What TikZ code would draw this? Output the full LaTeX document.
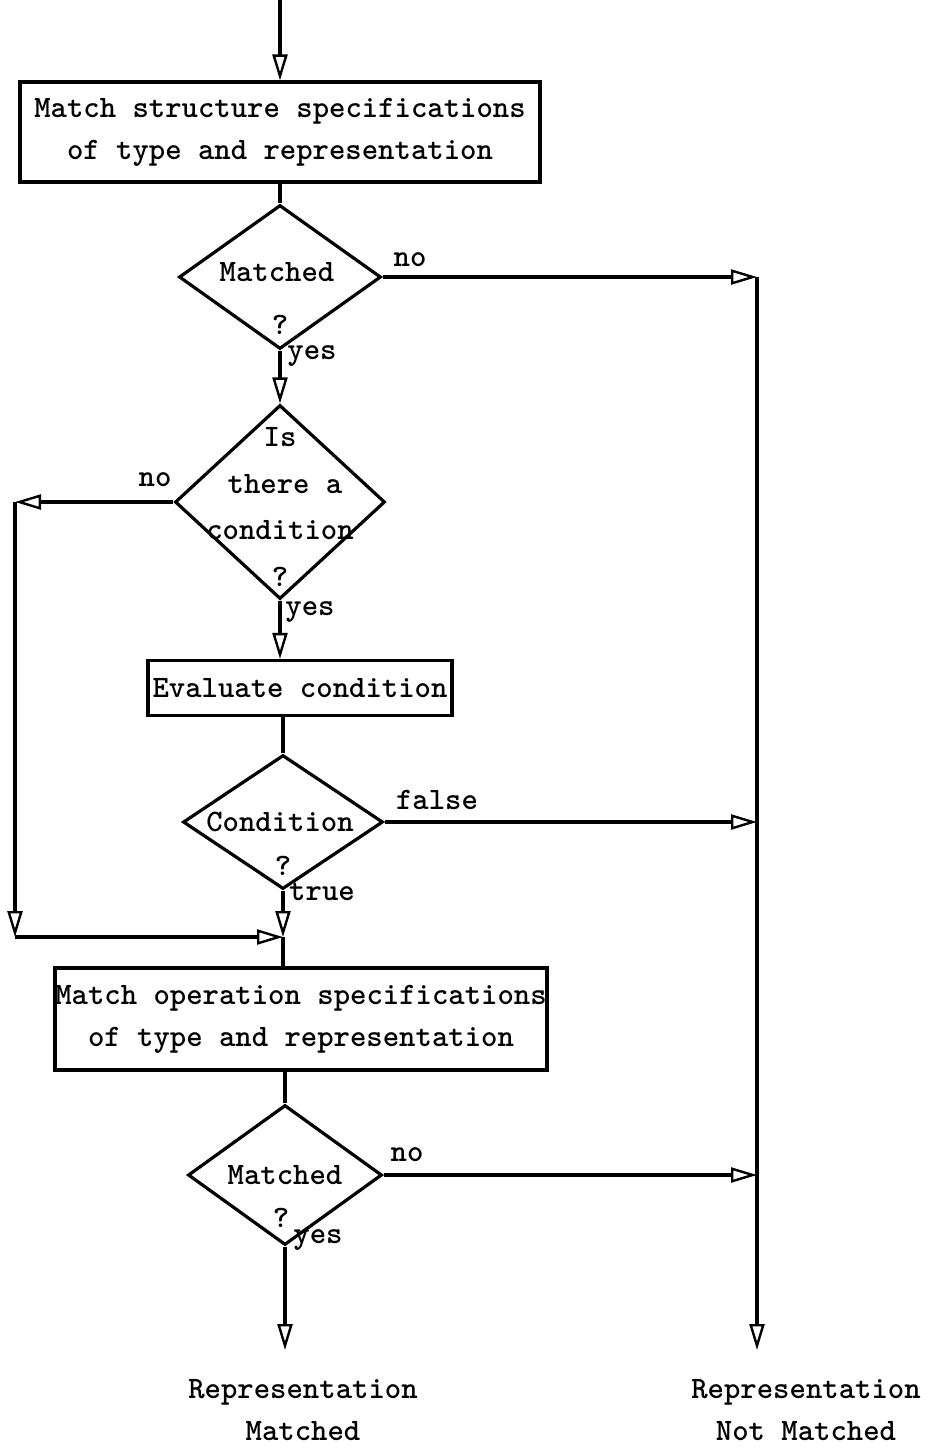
\documentclass[tikz,border=0pt]{standalone}
\usetikzlibrary{shapes.geometric,arrows.meta}

\tikzset{
  flow/.style={line width=1.6pt,-{Triangle[open,length=13pt,width=7.5pt,line width=1.2pt]}},
  link/.style={line width=1.6pt},
  procbox/.style={draw,line width=1.6pt,inner sep=0pt,align=center},
  decision/.style={draw,diamond,line width=1.6pt,inner sep=0pt},
  txt/.style={inner sep=0pt,align=center}
}

\begin{document}
\begin{tikzpicture}[x=0.5pt,y=-0.5pt,font=\ttfamily\bfseries\fontsize{15.6}{21}\selectfont]
        \useasboundingbox (0,0) rectangle (929,1448);

        % Boxes
        \node[procbox,minimum width=260pt,minimum height=50pt] (b1) at (280,132)
          {Match structure specifications\\of type and representation};
        \node[procbox,minimum width=152pt,minimum height=27.5pt] (b2) at (300,688)
          {Evaluate condition};
        \node[procbox,minimum width=246pt,minimum height=51pt] (b3) at (301,1019)
          {Match operation specifications\\of type and representation};

        % Decisions
        \node[decision,minimum width=101pt,minimum height=72pt] (q1) at (280,277) {};
        \node[txt] (q1a) at (277,272) {Matched};
        \node[txt] (q1b) at (280,325) {?};

        \node[decision,minimum width=105pt,minimum height=97pt] (q2) at (280,502) {};
        \node[txt] (q2a) at (280,437) {Is};
        \node[txt] (q2b) at (285,484) {there a};
        \node[txt] (q2c) at (280,530) {condition};
        \node[txt] (q2d) at (280,577) {?};

        \node[decision,minimum width=100pt,minimum height=67pt] (q3) at (283,822) {};
        \node[txt] (q3a) at (280,822) {Condition};
        \node[txt] (q3b) at (283,866) {?};

        \node[decision,minimum width=97pt,minimum height=70pt] (q4) at (285,1175) {};
        \node[txt] (q4a) at (285,1175) {Matched};
        \node[txt] (q4b) at (281,1218) {?};

        % Ends
        \node[txt] (endyes) at (303,1410) {Representation\\Matched};
        \node[txt] (endno) at (806,1410) {Representation\\Not Matched};

        % Rails
        \coordinate (top) at (280,0);
        \coordinate (r1) at (757,277);
        \coordinate (rend) at (757,1350);
        \coordinate (l1) at (15,502);
        \coordinate (l2) at (15,937);
        \coordinate (j1) at (283,937);
        \coordinate (yesend) at (285,1350);

        % Connectors
        \draw[flow] (top) -- (top |- b1.north);
        \draw[link] (b1.south -| q1.north) -- (q1.north);
        \draw[flow] (q1.east) -- (r1);
        \draw[flow] (r1) -- (rend);
        \draw[flow] (q1.south) -- (q2.north);
        \draw[flow] (q2.west) -- (l1);
        \draw[flow] (l1) -- (l2);
        \draw[flow] (l2) -- (j1);
        \draw[flow] (q2.south) -- (q2.south |- b2.north);
        \draw[link] (q3.north |- b2.south) -- (q3.north);
        \draw[flow] (q3.east) -- (q3.east -| rend);
        \draw[flow] (q3.south) -- (j1);
        \draw[link] (j1) -- (j1 |- b3.north);
        \draw[link] (q4.north |- b3.south) -- (q4.north);
        \draw[flow] (q4.east) -- (q4.east -| rend);
        \draw[flow] (q4.south) -- (yesend);

        % Labels
        \node[txt] (no1) at (410,260) {no};
        \node[txt] (yes1) at (312,356) {yes};
        \node[txt] (no2) at (155,480) {no};
        \node[txt] (yes2) at (310,612) {yes};
        \node[txt] (false3) at (437,800) {false};
        \node[txt] (true3) at (322,892) {true};
        \node[txt] (no4) at (407,1155) {no};
        \node[txt] (yes4) at (318,1240) {yes};
      \end{tikzpicture}
\end{document}
